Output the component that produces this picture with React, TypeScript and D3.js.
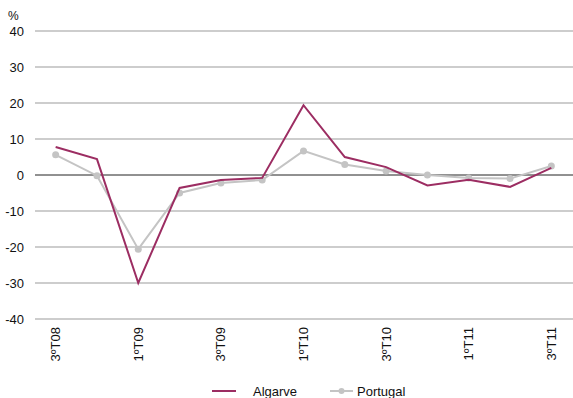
import * as d3 from "d3";
import React, { useEffect, useRef } from "react";

const quarters = ["3ºT08", "4ºT08", "1ºT09", "2ºT09", "3ºT09", "4ºT09", "1ºT10", "2ºT10", "3ºT10", "4ºT10", "1ºT11", "2ºT11", "3ºT11"];
const tickQuarters = ["3ºT08", "1ºT09", "3ºT09", "1ºT10", "3ºT10", "1ºT11", "3ºT11"];
const algarve = [7.8, 4.4, -30, -3.6, -1.4, -0.8, 19.4, 5, 2.2, -2.9, -1.3, -3.3, 2];
const portugal = [5.6, -0.2, -20.6, -5, -2.2, -1.4, 6.7, 2.9, 1.1, 0, -0.8, -1, 2.5];
const yTicks = [40, 30, 20, 10, 0, -10, -20, -30, -40];

const App = () => {
  const node = useRef<SVGSVGElement>(null);

  useEffect(() => {
    const svg = d3.select(node.current);
    svg.selectAll("*").remove();
    const font = "Liberation Sans, Arial, sans-serif";
    const left = 35;
    const right = 572;

    const x = d3.scaleBand().domain(quarters).range([left, right]);
    const y = d3.scaleLinear().domain([-40, 40]).range([319, 31]);
    const cx = (q) => x(q) + x.bandwidth() / 2;

    svg
      .append("g")
      .selectAll("line")
      .data(yTicks)
      .join("line")
      .attr("x1", left)
      .attr("x2", right + 1)
      .attr("y1", (d) => y(d))
      .attr("y2", (d) => y(d))
      .attr("stroke", (d) => (d === 0 ? "#222" : "#bcbcbc"))
      .attr("stroke-width", (d) => (d === 0 ? 1 : 1.3));

    svg
      .append("g")
      .selectAll("text")
      .data(yTicks)
      .join("text")
      .attr("x", 24)
      .attr("y", (d) => y(d))
      .attr("dy", "0.35em")
      .attr("text-anchor", "end")
      .attr("font-family", font)
      .attr("font-size", 13)
      .attr("fill", "#111")
      .text((d) => d);

    svg
      .append("text")
      .attr("x", 8)
      .attr("y", 20)
      .attr("font-family", font)
      .attr("font-size", 12)
      .attr("fill", "#111")
      .text("%");

    svg
      .append("g")
      .selectAll("text")
      .data(tickQuarters)
      .join("text")
      .attr("transform", (d) => `translate(${cx(d) + 4.5},327) rotate(-90)`)
      .attr("text-anchor", "end")
      .attr("font-family", font)
      .attr("font-size", 13)
      .attr("fill", "#111")
      .text((d) => d);

    const line = d3
      .line<number>()
      .x((d, i) => cx(quarters[i]))
      .y((d) => y(d));

    svg
      .append("path")
      .datum(portugal)
      .attr("fill", "none")
      .attr("stroke", "#c4c4c4")
      .attr("stroke-width", 2)
      .attr("d", line);

    svg
      .append("g")
      .selectAll("circle")
      .data(portugal)
      .join("circle")
      .attr("cx", (d, i) => cx(quarters[i]))
      .attr("cy", (d) => y(d))
      .attr("r", 3.5)
      .attr("fill", "#c4c4c4");

    svg
      .append("path")
      .datum(algarve)
      .attr("fill", "none")
      .attr("stroke", "#9c2d62")
      .attr("stroke-width", 2)
      .attr("d", line);

    // legend
    const lg = svg.append("g").attr("font-family", font).attr("font-size", 13).attr("fill", "#111");
    lg.append("line").attr("x1", 212).attr("x2", 236).attr("y1", 391).attr("y2", 391).attr("stroke", "#9c2d62").attr("stroke-width", 2);
    lg.append("text").attr("x", 253).attr("y", 396).text("Algarve");
    lg.append("line").attr("x1", 330).attr("x2", 353).attr("y1", 391).attr("y2", 391).attr("stroke", "#c4c4c4").attr("stroke-width", 2);
    lg.append("circle").attr("cx", 341.5).attr("cy", 391).attr("r", 3).attr("fill", "#c4c4c4");
    lg.append("text").attr("x", 357).attr("y", 396).text("Portugal");
  }, []);

  return (
    <svg
      ref={node}
      width={573}
      height={398}
      style={{ position: "absolute", left: 0, top: 0, background: "#fff" }}
    />
  );
};

export default App;
